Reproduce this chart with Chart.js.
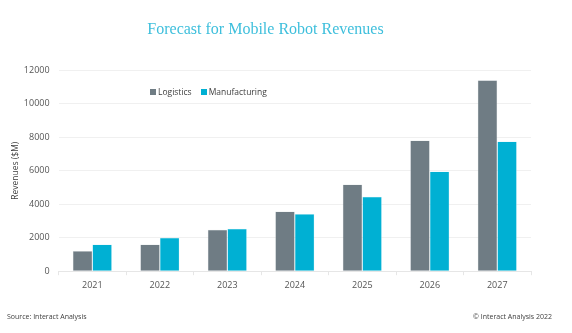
<!DOCTYPE html>
<html>
<head>
<meta charset="utf-8">
<script src="https://cdn.jsdelivr.net/npm/chart.js@4"></script>
<style>
  body { margin: 0; background: #fff; }
  #wrap { position: relative; width: 572px; height: 333px; }
  #legend { position: absolute; left: 150px; top: 86px; font: 8.5px "Open Sans", sans-serif; color: #404040; white-space: nowrap; }
  #legend span.box { display: inline-block; width: 6px; height: 6px; margin-right: 2px; vertical-align: 0px; }
  #legend span.item { margin-right: 9px; }
  .foot { position: absolute; top: 312px; font: 7px "Open Sans", sans-serif; color: #404040; }
</style>
</head>
<body>
<div id="wrap">
  <canvas id="myChart" width="572" height="333"></canvas>
  <div id="legend"></div>
  <div class="foot" style="left:7px">Source: Interact Analysis</div>
  <div class="foot" style="right:20px">© Interact Analysis 2022</div>
</div>
<script>
// data.....................
var years = ["2021", "2022", "2023", "2024", "2025", "2026", "2027"];
var logistics = [1200, 1600, 2480, 3560, 5180, 7800, 11400];
var manufacturing = [1600, 2000, 2540, 3420, 4440, 5950, 7740];
var yTicks = [0, 2000, 4000, 6000, 8000, 10000, 12000];

var seriesNames = ["Logistics", "Manufacturing"];
var barColors = ["#6f7c84", "#00b0d3"];

new Chart("myChart", {
  type: "bar",
  data: {
    labels: years,
    datasets: [{
      label: seriesNames[0],
      data: logistics,
      backgroundColor: barColors[0],
      borderColor: "#d7dde0",
      borderWidth: 0.5,
      categoryPercentage: 0.58,
      barPercentage: 1.0
    }, {
      label: seriesNames[1],
      data: manufacturing,
      backgroundColor: barColors[1],
      borderColor: "#c9eef6",
      borderWidth: 0.5,
      categoryPercentage: 0.58,
      barPercentage: 1.0
    }]
  },
  options: {
    responsive: false,
    animation: false,
    layout: { padding: { left: 0, right: 41, top: 0, bottom: 37 } },
    plugins: {
      legend: { display: false },
      tooltip: { enabled: false },
      title: {
        display: true,
        text: "Forecast for Mobile Robot Revenues",
        color: "#3ebfdc",
        font: { family: "Liberation Serif", size: 16, weight: "normal" },
        padding: { top: 20, bottom: 31 }
      }
    },
    scales: {
      x: {
        grid: { drawOnChartArea: false, tickLength: 4, color: "#e6e6e6" },
        border: { color: "#e6e6e6" },
        ticks: { color: "#555", padding: 5, font: { family: "Open Sans", size: 9 } }
      },
      y: {
        min: 0,
        max: 12000,
        afterBuildTicks: function (scale) {
          scale.ticks = yTicks.map(function (v) { return { value: v }; });
        },
        afterFit: function (scale) { scale.width = 58.6; },
        grid: { color: "#f0f0f0", drawTicks: false },
        border: { display: false },
        ticks: {
          color: "#555", padding: 9, font: { family: "Open Sans", size: 9 },
          callback: function (v) { return String(v); }
        },
        title: {
          display: true,
          text: "Revenues ($M)",
          color: "#404040",
          padding: { top: 10, bottom: 0 },
          font: { family: "Open Sans", size: 8.5 }
        }
      }
    }
  }
});

// legend...............
var legend = document.getElementById("legend");
seriesNames.forEach(function (name, i) {
  var item = document.createElement("span");
  item.className = "item";
  var box = document.createElement("span");
  box.className = "box";
  box.style.background = barColors[i];
  item.appendChild(box);
  item.appendChild(document.createTextNode(name));
  legend.appendChild(item);
});
</script>
</body>
</html>
